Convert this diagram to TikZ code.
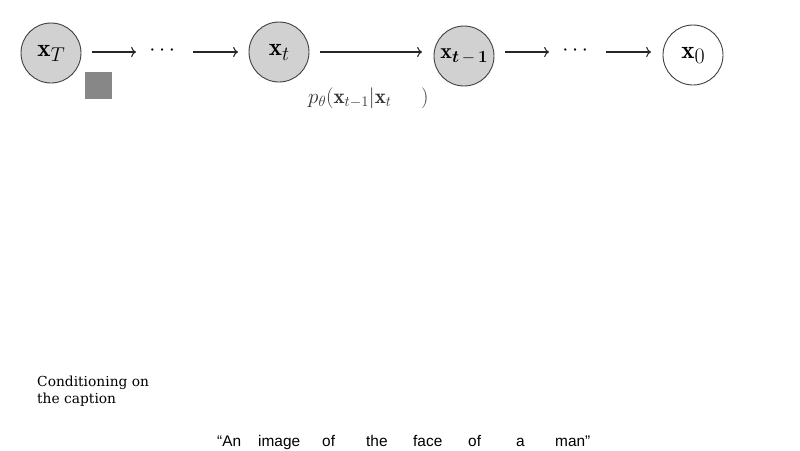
\documentclass[tikz,border=0pt]{standalone}
\usepackage{fix-cm}
\usepackage{amsmath,bm}
\usepackage{fontspec}
\usetikzlibrary{arrows.meta}
\newfontfamily\capsans{Liberation Sans}
\newfontfamily\noteserif{DejaVu Serif}
\newcommand{\lowsub}[3]{\raisebox{-#1}{\fontsize{#2}{#2}\selectfont$#3$}}
\begin{document}
\begin{tikzpicture}[x=1pt,y=-1pt,
  state/.style={circle,draw=black!75,line width=0.9pt,fill=black!18,minimum size=60pt,inner sep=0pt,font=\fontsize{25}{28}\selectfont},
  whitestate/.style={state,fill=white},
  arr/.style={-{Computer Modern Rightarrow[scale=1.2]},line width=1.1pt,black!85},
  word/.style={anchor=base west,inner sep=0pt,font=\capsans\fontsize{15.4}{18}\selectfont},
  dotsnode/.style={inner sep=0pt,font=\fontsize{22}{24}\selectfont}]
\useasboundingbox (0,0) rectangle (800,450);
\node[state] (xT) at (51,53) {$\mathbf{x}$\lowsub{5pt}{20}{T}};
\node[state] (xt) at (279,52) {$\mathbf{x}$\lowsub{5pt}{20}{t}};
\node[state,font=\fontsize{22}{24}\selectfont] (xtm) at (464,56) {$\mathbf{x}$\lowsub{4pt}{17}{\bm{t}\mkern-1mu-\mkern-1mu\bm{1}}};
\node[whitestate] (x0) at (693,55) {$\mathbf{x}$\lowsub{5pt}{22}{0}};
\node[dotsnode] (d1) at (164,51) {$\cdots$};
\node[dotsnode] (d2) at (577,51) {$\cdots$};
\coordinate (a1s) at (92,52); \coordinate (a1e) at (136,52);
\coordinate (a2s) at (193,52); \coordinate (a2e) at (238,52);
\coordinate (a3s) at (320,52); \coordinate (a3e) at (422,52);
\coordinate (a4s) at (505,52); \coordinate (a4e) at (549,52);
\coordinate (a5s) at (606,52); \coordinate (a5e) at (651,52);
\draw[arr] (a1s) -- (a1e);
\draw[arr] (a2s) -- (a2e);
\draw[arr] (a3s) -- (a3e);
\draw[arr] (a4s) -- (a4e);
\draw[arr] (a5s) -- (a5e);
\node[fill=black!47,minimum size=27pt,inner sep=0pt] (noise) at (98.5,85.5) {};
\node[anchor=west,inner sep=0pt,text=black!80,font=\fontsize{21}{24}\selectfont] (lab) at (308,98) {$p_\theta(\mathbf{x}_{t-1}|\mathbf{x}_t\hspace{1.4em})$};
\node[anchor=base west,align=left,inner sep=0pt,font=\noteserif\fontsize{13.8}{17}\selectfont] (cond) at (37,403) {Conditioning on\\the caption};
\node[word] (w1) at (217,446) {“An};
\node[word] (w2) at (258,446) {image};
\node[word] (w3) at (322,446) {of};
\node[word] (w4) at (366,446) {the};
\node[word] (w5) at (413,446) {face};
\node[word] (w6) at (468,446) {of};
\node[word] (w7) at (516,446) {a};
\node[word] (w8) at (555,446) {man”};
\end{tikzpicture}
\end{document}
